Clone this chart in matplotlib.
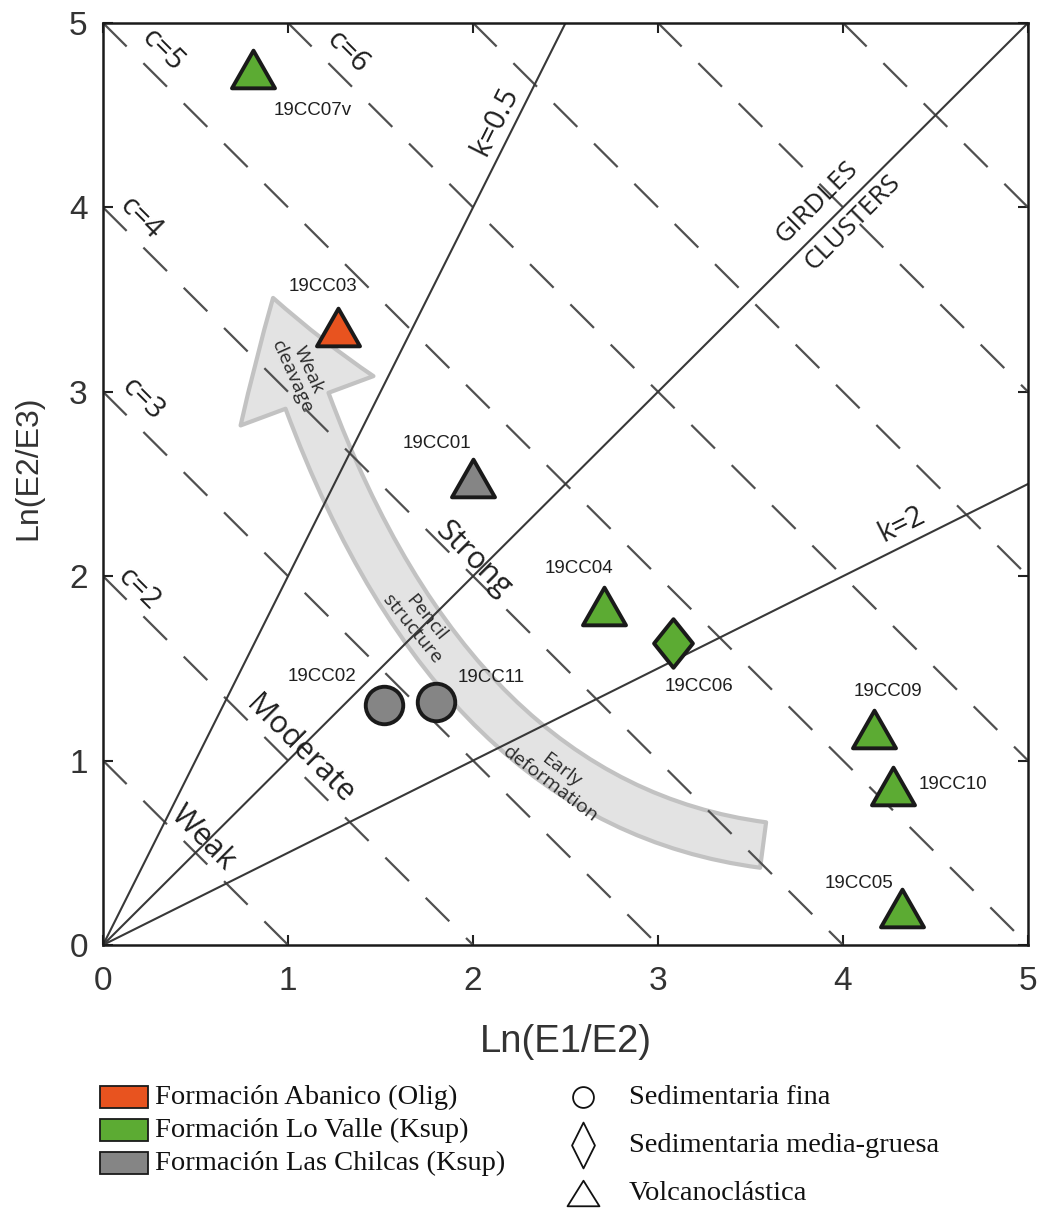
import matplotlib
matplotlib.use("Agg")
import matplotlib.pyplot as plt
from matplotlib.path import Path
from matplotlib.markers import MarkerStyle
from matplotlib.patches import FancyArrowPatch, ArrowStyle, Rectangle
from matplotlib.lines import Line2D

plt.rcParams["font.family"] = ["Liberation Sans", "DejaVu Sans"]
plt.rcParams["lines.scale_dashes"] = False

# ---------------------------------------------------------------- data
samples = ["19CC07v", "19CC03", "19CC01", "19CC04", "19CC06",
           "19CC02", "19CC11", "19CC09", "19CC10", "19CC05"]
ln_e1_e2 = [0.81, 1.27, 2.00, 2.71, 3.08, 1.52, 1.80, 4.17, 4.27, 4.32]
ln_e2_e3 = [4.75, 3.35, 2.53, 1.84, 1.64, 1.30, 1.32, 1.17, 0.86, 0.20]
formation = ["Lo Valle", "Abanico", "Las Chilcas", "Lo Valle", "Lo Valle",
             "Las Chilcas", "Las Chilcas", "Lo Valle", "Lo Valle", "Lo Valle"]
lithology = ["volc", "volc", "volc", "volc", "media",
             "fina", "fina", "volc", "volc", "volc"]
# label offsets (points) from each sample symbol
label_dx = [43, -11, -26, -18, 19, -45, 40, 10, 43, -31]
label_dy = [-30, 29, 25, 27, -32, 21, 17, 27, 1, 18]

c_levels = [1, 2, 3, 4, 5, 6, 7, 8, 9]
c_labelled = [2, 3, 4, 5, 6]
c_label_xy = {2: (0.19, 1.93), 3: (0.21, 2.96), 4: (0.20, 3.94),
              5: (0.32, 4.85), 6: (1.32, 4.84)}
k_levels = [0.5, 1, 2]

formations = ["Formación Abanico (Olig)", "Formación Lo Valle (Ksup)",
              "Formación Las Chilcas (Ksup)"]
formation_keys = ["Abanico", "Lo Valle", "Las Chilcas"]
lithologies = ["Sedimentaria fina", "Sedimentaria media-gruesa", "Volcanoclástica"]
lithology_keys = ["fina", "media", "volc"]

colors = {"Abanico": "#e8531f", "Lo Valle": "#5cab33", "Las Chilcas": "#858585"}

tri_path = Path([(-1, -0.875), (1, -0.875), (0, 0.875), (-1, -0.875)], closed=True)
dia_path = Path([(0, 1), (0.8, 0), (0, -1), (-0.8, 0), (0, 1)], closed=True)
markers = {
    "volc": (MarkerStyle(tri_path, joinstyle="miter"), 31),
    "media": (MarkerStyle(dia_path, joinstyle="miter"), 35),
    "fina": (MarkerStyle("o"), 27),
}

ANNOT = ["Open Sans", "DejaVu Sans"]
INK = "#1f1f1f"

# ---------------------------------------------------------------- figure
fig = plt.figure(figsize=(10.44, 12.09), dpi=100)
ax = fig.add_axes([0.0987, 0.2184, 0.8860, 0.7626])
ax.set_xlim(0, 5)
ax.set_ylim(0, 5)

# deformation path arrow (behind the grid lines)
arrow_tail, arrow_bend, arrow_tip = (3.568, 0.542), (1.714, 0.786), (0.919, 3.509)
arrow_path = Path([arrow_tail, arrow_bend, arrow_tip],
                  [Path.MOVETO, Path.CURVE3, Path.CURVE3])
arrow = FancyArrowPatch(path=arrow_path,
                        arrowstyle=ArrowStyle("simple", head_length=78,
                                              head_width=102, tail_width=33),
                        mutation_scale=1, facecolor="#e3e3e3",
                        edgecolor="#c2c2c2", lw=3, zorder=1)
ax.add_patch(arrow)

# C = ln(E1/E3) contours
for c in c_levels:
    x0, x1 = max(0, c - 5), min(c, 5)
    ax.plot([x0, x1], [c - x0, c - x1], color="#505050", lw=1.6,
            dashes=(24, 17), zorder=2)

# K = ln(E1/E2)/ln(E2/E3) lines
for k in k_levels:
    x_end = min(5, 5 * k)
    ax.plot([0, x_end], [0, x_end / k], color="#383838", lw=1.5, zorder=2)

for c in c_labelled:
    x, y = c_label_xy[c]
    ax.text(x, y, f"c={c}", rotation=-45, rotation_mode="anchor",
            ha="center", va="center", fontsize=21, family=ANNOT, color=INK, zorder=3)

ax.text(2.12, 4.47, "k=0.5", rotation=63.4, rotation_mode="anchor",
        ha="center", va="center", fontsize=21, family=ANNOT, color=INK, zorder=3)
ax.text(4.32, 2.28, "k=2", rotation=26.6, rotation_mode="anchor",
        ha="center", va="center", fontsize=21, family=ANNOT, color=INK, zorder=3)
ax.text(3.86, 4.03, "GIRDLES", rotation=45, rotation_mode="anchor",
        ha="center", va="center", fontsize=19, family=ANNOT, color=INK, zorder=3)
ax.text(4.05, 3.92, "CLUSTERS", rotation=45, rotation_mode="anchor",
        ha="center", va="center", fontsize=19, family=ANNOT, color=INK, zorder=3)

for txt, (x, y) in [("Weak", (0.54, 0.58)), ("Moderate", (1.065, 1.057)),
                    ("Strong", (2.0, 2.09))]:
    ax.text(x, y, txt, rotation=-45, rotation_mode="anchor", ha="center",
            va="center", fontsize=22, family=ANNOT, color=INK, zorder=3)

for txt, (x, y), rot in [("Weak\ncleavage", (1.065, 3.10), -66),
                         ("Pencil\nstructure", (1.71, 1.746), -51),
                         ("Early\ndeformation", (2.45, 0.91), -37)]:
    ax.text(x, y, txt, rotation=rot, rotation_mode="anchor", ha="center",
            va="center", fontsize=14, family=ANNOT, color="#2a2a2a",
            linespacing=1.0, zorder=3)

# samples
for name, x, y, f, lit, dx, dy in zip(samples, ln_e1_e2, ln_e2_e3, formation,
                                      lithology, label_dx, label_dy):
    m, ms = markers[lit]
    ax.plot([x], [y], linestyle="none", marker=m, markersize=ms,
            markerfacecolor=colors[f], markeredgecolor="#1a1a1a",
            markeredgewidth=2.8, zorder=4)
    ax.annotate(name, (x, y), xytext=(dx, dy), textcoords="offset points",
                ha="center", va="center", fontsize=13.5, color=INK, zorder=5)

# axes styling
ax.set_xticks([0, 1, 2, 3, 4, 5])
ax.set_yticks([0, 1, 2, 3, 4, 5])
ax.tick_params(direction="in", length=7, width=1.5, top=True, right=True,
               labelsize=24, labelcolor="#333333", color="#222222")
ax.tick_params(axis="x", pad=15)
ax.tick_params(axis="y", pad=11)
for s in ax.spines.values():
    s.set_linewidth(1.8)
    s.set_color("#1a1a1a")

ax.set_xlabel("Ln(E1/E2)", fontsize=27.5, color="#333333", va="center")
ax.xaxis.set_label_coords(0.5, -0.1052)
ax.set_ylabel("Ln(E2/E3)", fontsize=23, color="#333333", va="center")
ax.yaxis.set_label_coords(-0.0805, 0.518)

# ---------------------------------------------------------------- legends
SERIF = ["Liberation Serif", "DejaVu Serif"]
left_rows = [0.0926, 0.0653, 0.0380]
for key, lab, yc in zip(formation_keys, formations, left_rows):
    fig.patches.append(Rectangle((0.0958, yc - 0.0091), 0.046, 0.0182,
                                 transform=fig.transFigure, facecolor=colors[key],
                                 edgecolor="#1a1a1a", lw=1.3))
    fig.text(0.1485, yc, lab, ha="left", va="center", fontsize=20.5,
             family=SERIF, color="#111111")

legend_markers = {
    "fina": (MarkerStyle("o"), 15),
    "media": (MarkerStyle(Path([(0, 1), (0.5, 0), (0, -1), (-0.5, 0), (0, 1)],
                               closed=True), joinstyle="miter"), 33),
    "volc": (MarkerStyle(Path([(-1, -0.8), (1, -0.8), (0, 0.8), (-1, -0.8)],
                              closed=True), joinstyle="miter"), 23),
}
right_rows = [0.0926, 0.0529, 0.0132]
for key, lab, yc in zip(lithology_keys, lithologies, right_rows):
    m, ms = legend_markers[key]
    fig.add_artist(Line2D([0.5584], [yc], transform=fig.transFigure,
                          linestyle="none", marker=m, markersize=ms,
                          markerfacecolor="white", markeredgecolor="#111111",
                          markeredgewidth=1.3))
    fig.text(0.6025, yc, lab, ha="left", va="center", fontsize=20.5,
             family=SERIF, color="#111111")

fig.savefig("out.png", dpi=100)
